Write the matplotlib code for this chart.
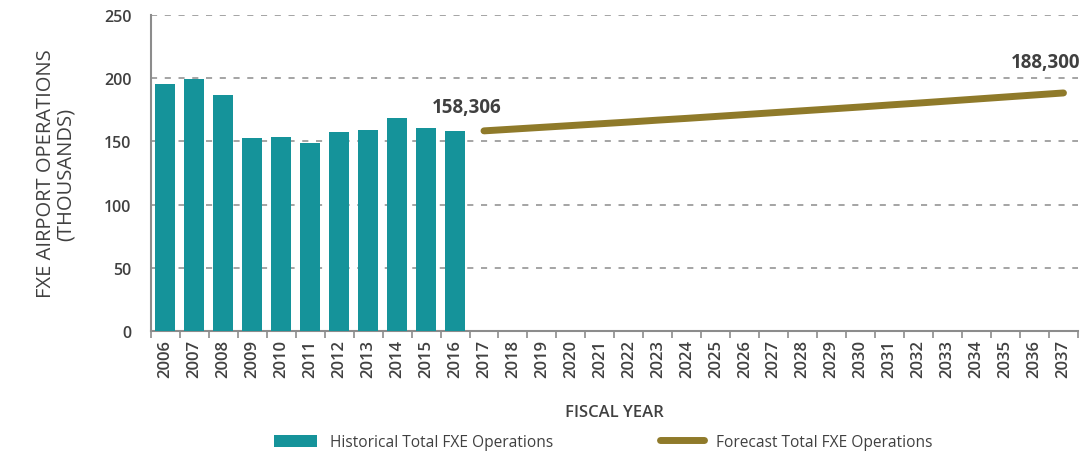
import matplotlib
matplotlib.use("Agg")
import matplotlib.pyplot as plt
from matplotlib.lines import Line2D
from matplotlib.patches import Patch
import numpy as np

plt.rcParams['font.family'] = ['Open Sans', 'DejaVu Sans']

years = list(range(2006, 2038))
hist_years = list(range(2006, 2017))
hist_ops = [195.1, 199.6, 186.6, 152.9, 153.4, 148.9, 157.6, 158.7, 168.7, 160.2, 158.306]
fc_years = list(range(2017, 2038))
fc_ops = [158.3, 159.7, 161.1, 162.5, 163.9, 165.3, 166.8, 168.2, 169.7, 171.2, 172.7,
          174.2, 175.7, 177.2, 178.8, 180.3, 181.9, 183.5, 185.1, 186.7, 188.3]

teal = '#15939A'
olive = '#8F7A2A'
txt = '#404040'
gray = '#8c8c8c'

fig = plt.figure(figsize=(10.85, 4.56), dpi=100)
ax = fig.add_axes([0.139, 0.272, 0.8545, 0.693])

xh = [years.index(y) for y in hist_years]
xf = [years.index(y) for y in fc_years]
ax.bar(xh, hist_ops, width=0.68, color=teal, zorder=3)
ax.plot(xf, fc_ops, color=olive, lw=5, solid_capstyle='round', zorder=3)

ax.text(xh[-1] + 0.42, 169, '158,306', ha='center', va='bottom', fontsize=13.5,
        fontweight='bold', color=txt)
ax.text(xf[-1] + 0.57, 205, '188,300', ha='right', va='bottom', fontsize=13.5,
        fontweight='bold', color=txt)

ax.set_xlim(-0.5, len(years) - 0.5)
ax.set_ylim(0, 250)
ax.set_yticks([0, 50, 100, 150, 200, 250])
ax.set_xticks(range(len(years)))
ax.set_xticklabels([str(y) for y in years], rotation=90)
ax.set_xticks(np.arange(-0.5, len(years)), minor=True)
ax.tick_params(axis='x', which='major', length=0, pad=6, labelsize=12, labelcolor=txt)
ax.tick_params(axis='x', which='minor', length=5, color=gray, width=1.2)
ax.tick_params(axis='y', length=0, pad=14, labelsize=11.5, labelcolor=txt)
for t in ax.get_xticklabels() + ax.get_yticklabels():
    t.set_fontweight('semibold')

ax.yaxis.grid(True, ls=(0, (4, 5)), color=gray, lw=1.1, zorder=0)
for s in ['top', 'right']:
    ax.spines[s].set_visible(False)
for s in ['left', 'bottom']:
    ax.spines[s].set_color(gray)
    ax.spines[s].set_linewidth(1.5)

ax.set_xlabel('FISCAL YEAR', fontsize=12, fontweight='semibold', color=txt, labelpad=19)
ax.set_ylabel('FXE AIRPORT OPERATIONS\n(THOUSANDS)', fontsize=14.5, color=txt, labelpad=20,
              linespacing=1.0)

handles = [Patch(facecolor=teal, label='Historical Total FXE Operations'),
           Line2D([0], [0], color=olive, lw=5, solid_capstyle='round',
                  label='Forecast Total FXE Operations')]
fig.legend(handles=handles, loc='lower center', bbox_to_anchor=(0.556, -0.02), ncol=2,
           frameon=False, fontsize=11.2, labelcolor=txt, columnspacing=6.9,
           handlelength=2.8, handleheight=0.8, handletextpad=0.8)

fig.savefig('out.png', dpi=100)
